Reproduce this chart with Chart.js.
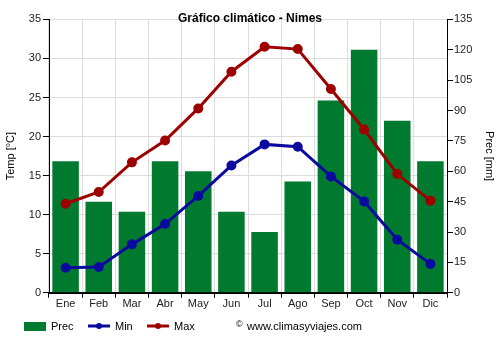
<!DOCTYPE html>
<html lang="es">
<head>
<meta charset="utf-8">
<title>Gráfico climático - Nimes</title>
<script src="https://cdn.jsdelivr.net/npm/chart.js@4/dist/chart.umd.min.js"></script>
<style>
  html, body { margin: 0; padding: 0; background: #fff; }
  #climate-chart { display: block; }
</style>
</head>
<body>
<canvas id="climate-chart" width="500" height="350"></canvas>
<script>
// Monthly climate data
const months = ['Ene', 'Feb', 'Mar', 'Abr', 'May', 'Jun', 'Jul', 'Ago', 'Sep', 'Oct', 'Nov', 'Dic'];
const precipitation = [65, 45, 40, 65, 60, 40, 30, 55, 95, 120, 85, 65];
const tempMin = [3.2, 3.3, 6.2, 8.8, 12.4, 16.3, 19.0, 18.7, 14.9, 11.7, 6.8, 3.7];
const tempMax = [11.4, 12.9, 16.7, 19.5, 23.6, 28.3, 31.5, 31.2, 26.1, 20.9, 15.2, 11.8];

const GREEN = '#007a2e';
const BLUE = '#0a0a9e';
const RED = '#9e0000';
const GRID = '#dcdcdc';
const FONT = 'Liberation Sans, Arial, sans-serif';

document.addEventListener('DOMContentLoaded', function () {
  // Legend row and site credit under the plot
  const footerPlugin = {
    id: 'footer',
    afterDraw(chart) {
      const ctx = chart.ctx;
      const y = 327;
      ctx.save();
      ctx.font = '11px ' + FONT;
      ctx.textBaseline = 'middle';
      ctx.fillStyle = '#000';

      // Prec: filled box
      ctx.fillStyle = GREEN;
      ctx.fillRect(24, 322, 22, 9);
      ctx.fillStyle = '#000';
      ctx.fillText('Prec', 51, y);

      // Min / Max: line with marker
      [[88, BLUE, 'Min'], [147, RED, 'Max']].forEach(function (item) {
        const x = item[0];
        ctx.strokeStyle = item[1];
        ctx.lineWidth = 3;
        ctx.beginPath();
        ctx.moveTo(x, y - 1);
        ctx.lineTo(x + 22, y - 1);
        ctx.stroke();
        ctx.fillStyle = item[1];
        ctx.beginPath();
        ctx.arc(x + 11, y - 1, 3, 0, Math.PI * 2);
        ctx.fill();
        ctx.fillStyle = '#000';
        ctx.fillText(item[2], x + 27, y);
      });

      ctx.font = '9px ' + FONT;
      ctx.fillText('©', 236, y - 2);
      ctx.font = '11px ' + FONT;
      ctx.fillText('www.climasyviajes.com', 247, y);
      ctx.restore();
    },
  };

  const ctx = document.getElementById('climate-chart').getContext('2d');

  const climateChart = new Chart(ctx, {
    type: 'bar',
    data: {
      labels: months,
      datasets: [
        {
          type: 'line',
          label: 'Min',
          data: tempMin,
          yAxisID: 'y',
          borderColor: BLUE,
          backgroundColor: BLUE,
          borderWidth: 3,
          pointRadius: 3.5,
          pointHoverRadius: 3.5,
          tension: 0,
          order: 1,
        },
        {
          type: 'line',
          label: 'Max',
          data: tempMax,
          yAxisID: 'y',
          borderColor: RED,
          backgroundColor: RED,
          borderWidth: 3,
          pointRadius: 3.5,
          pointHoverRadius: 3.5,
          tension: 0,
          order: 1,
        },
        {
          label: 'Prec',
          data: precipitation,
          yAxisID: 'y1',
          backgroundColor: GREEN,
          barPercentage: 0.8,
          categoryPercentage: 1.0,
          order: 2,
        },
      ],
    },
    options: {
      responsive: false,
      animation: false,
      layout: {
        padding: { top: 0, bottom: 39, left: 0, right: 0 },
      },
      plugins: {
        legend: { display: false },
        tooltip: { enabled: false },
        title: {
          display: true,
          text: 'Gráfico climático - Nimes',
          color: '#000',
          font: { family: FONT, size: 12, weight: 'bold' },
          padding: { top: 11, bottom: -6 },
        },
      },
      scales: {
        x: {
          offset: true,
          grid: {
            offset: true,
            color: GRID,
            tickColor: '#000',
            tickLength: 5,
          },
          border: { color: '#000', width: 2 },
          ticks: {
            color: '#222',
            padding: 0,
            font: { family: FONT, size: 11 },
            maxRotation: 0,
          },
        },
        y: {
          position: 'left',
          min: 0,
          max: 35,
          grid: {
            color: GRID,
            tickColor: '#000',
            tickLength: 6,
          },
          border: { color: '#000', width: 1 },
          ticks: {
            stepSize: 5,
            color: '#222',
            padding: 2,
            font: { family: FONT, size: 11 },
          },
          title: {
            display: true,
            text: 'Temp [°C]',
            color: '#000',
            font: { family: FONT, size: 11 },
          },
          afterFit(scale) {
            scale.width = 49;
          },
        },
        y1: {
          position: 'right',
          min: 0,
          max: 135,
          grid: {
            drawOnChartArea: false,
            tickColor: '#000',
            tickLength: 6,
          },
          border: { color: '#000', width: 1 },
          ticks: {
            stepSize: 7.5,
            maxTicksLimit: 19,
            color: '#222',
            padding: 1,
            font: { family: FONT, size: 11 },
            callback: function (value) {
              return Number.isInteger(value) && value % 15 === 0 ? value : '';
            },
          },
          title: {
            display: true,
            text: 'Prec [mm]',
            color: '#000',
            font: { family: FONT, size: 11 },
          },
          afterFit(scale) {
            scale.width = 53;
          },
        },
      },
    },
    plugins: [footerPlugin],
  });
});
</script>
</body>
</html>
